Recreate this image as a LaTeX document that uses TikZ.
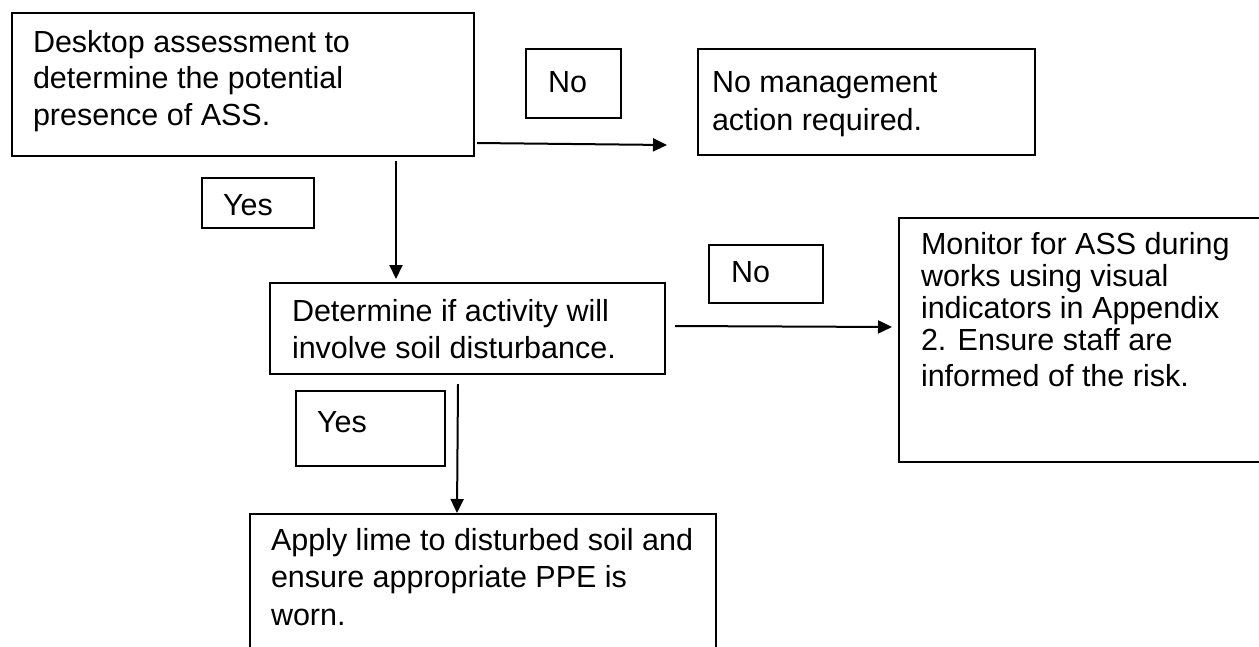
\documentclass[tikz,border=0pt]{standalone}
\usepackage{fontspec}
\setmainfont{Liberation Sans}
\usetikzlibrary{arrows.meta}
\begin{document}
\begin{tikzpicture}[x=1pt,y=-1pt,
  box/.style={draw=black, line width=1.6pt, anchor=north west, inner sep=0pt, outer sep=0pt},
  txt/.style={anchor=base west, inner sep=0pt, outer sep=0pt, align=left, font=\fontsize{30.5}{37}\selectfont},
  arr/.style={draw=black, line width=2pt, -{Triangle[length=14pt,width=13pt]}}]
\useasboundingbox (0,0) rectangle (1259,646);
\clip (0,0) rectangle (1259,646);
% main boxes
\node[box, minimum width=462pt, minimum height=143pt] (b1) at (12,13) {};
\node[box, minimum width=337pt, minimum height=106pt] (b2) at (698,49) {};
\node[box, minimum width=395pt, minimum height=91pt] (b3) at (270,283) {};
\node[box, minimum width=366pt, minimum height=244pt] (b4) at (899,218) {};
\node[box, minimum width=466pt, minimum height=146pt] (b5) at (250,514) {};
% label boxes
\node[box, minimum width=95pt, minimum height=69pt] (n1) at (526,49) {};
\node[box, minimum width=112pt, minimum height=50pt] (y1) at (202,178) {};
\node[box, minimum width=114pt, minimum height=58pt] (n2) at (709,245) {};
\node[box, minimum width=149pt, minimum height=75pt] (y2) at (296,391) {};
% texts (anchored at the baseline of their last line)
\node[txt, font=\fontsize{30.5}{36.5}\selectfont] (t1) at (33,125) {Desktop assessment to\\determine the potential\\presence of ASS.};
\node[txt, font=\fontsize{30.5}{38}\selectfont] (t2) at (712,130) {No management\\action required.};
\node[txt] (t3) at (292,358) {Determine if activity will\\involve soil disturbance.};
\node[txt, font=\fontsize{30.5}{31.7}\selectfont] (t4) at (921,386) {Monitor for ASS during\\works using visual\\indicators in Appendix\\2. Ensure staff are\\[4.3pt]informed of the risk.};
\node[txt, font=\fontsize{30.5}{37.5}\selectfont] (t5) at (271,625) {Apply lime to disturbed soil and\\ensure appropriate PPE is\\worn.};
\node[txt] (tn1) at (548,92) {No};
\node[txt] (ty1) at (223,215) {Yes};
\node[txt] (tn2) at (731,282) {No};
\node[txt] (ty2) at (317,432) {Yes};
% connectors
\draw[arr] ([shift={(3,-13)}]b1.south east) -- ([shift={(-31,-10)}]b2.south west);
\draw[arr] ([shift={(-78,5)}]b1.south east) -- ([shift={(126,-4)}]b3.north west);
\draw[arr] ([shift={(10,-2.5)}]b3.east) -- ([shift={(-7,109)}]b4.north west);
\draw[arr] ([shift={(188,10)}]b3.south west) -- ([shift={(207,-1)}]b5.north west);
\end{tikzpicture}
\end{document}
